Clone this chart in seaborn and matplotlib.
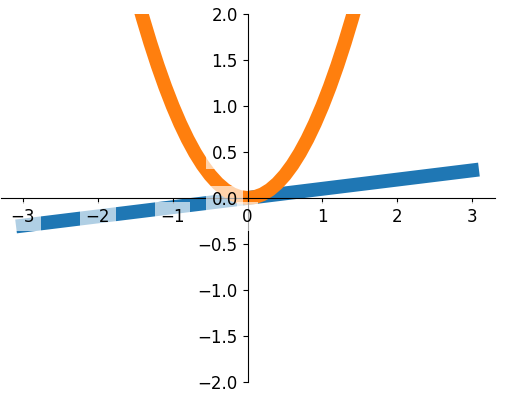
import matplotlib
matplotlib.use("Agg")
import matplotlib.pyplot as plt
import seaborn as sns

# Data
line_x = [-3.0, -2.0, -1.0, 0.0, 1.0, 2.0, 3.0]
line_y = [-0.3, -0.2, -0.1, 0.0, 0.1, 0.2, 0.3]

curve_x = [-1.6, -1.5, -1.4, -1.3, -1.2, -1.1, -1.0, -0.9, -0.8, -0.7, -0.6,
           -0.5, -0.4, -0.3, -0.2, -0.1, 0.0, 0.1, 0.2, 0.3, 0.4, 0.5, 0.6,
           0.7, 0.8, 0.9, 1.0, 1.1, 1.2, 1.3, 1.4, 1.5, 1.6]
curve_y = [2.56, 2.25, 1.96, 1.69, 1.44, 1.21, 1.0, 0.81, 0.64, 0.49, 0.36,
           0.25, 0.16, 0.09, 0.04, 0.01, 0.0, 0.01, 0.04, 0.09, 0.16, 0.25, 0.36,
           0.49, 0.64, 0.81, 1.0, 1.21, 1.44, 1.69, 1.96, 2.25, 2.56]

x_ticks = [-3, -2, -1, 0, 1, 2, 3]
y_ticks = [-2.0, -1.5, -1.0, -0.5, 0.0, 0.5, 1.0, 1.5, 2.0]

fig = plt.figure(figsize=(5.05, 3.94), dpi=100)
ax = fig.add_axes([0.5 / 505, 12 / 394, 494 / 505, 368 / 394])

sns.lineplot(x=line_x, y=line_y, ax=ax, color="#1f77b4", linewidth=10)
sns.lineplot(x=curve_x, y=curve_y, ax=ax, color="#ff7f0e", linewidth=10)

ax.set_xlim(-3.3, 3.3)
ax.set_ylim(-2, 2)
ax.set_axisbelow(False)

ax.spines["right"].set_color("none")
ax.spines["top"].set_color("none")
ax.xaxis.set_ticks_position("bottom")
ax.spines["bottom"].set_position(("data", 0))
ax.yaxis.set_ticks_position("left")
ax.spines["left"].set_position(("data", 0))

ax.set_xticks(x_ticks)
ax.set_yticks(y_ticks)
ax.set_xticklabels([f"{v:d}".replace("-", "\u2212") for v in x_ticks])
ax.set_yticklabels([f"{v:.1f}".replace("-", "\u2212") for v in y_ticks])

for label in ax.get_xticklabels() + ax.get_yticklabels():
    label.set_fontsize(12)
    label.set_bbox(dict(facecolor="white", edgecolor="None", alpha=0.65))

fig.savefig("out.png", dpi=100)
